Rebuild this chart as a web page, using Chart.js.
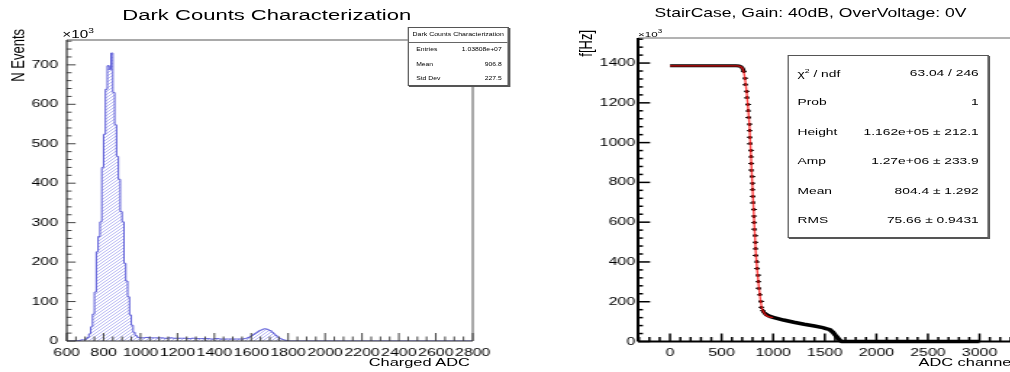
<!DOCTYPE html>
<html>
<head>
<meta charset="utf-8">
<script src="https://cdn.jsdelivr.net/npm/chart.js@4.4.0/dist/chart.umd.min.js"></script>
<style>
html, body { margin: 0; padding: 0; width: 1010px; height: 372px; overflow: hidden; background: #fff; }
#root { position: absolute; left: 0; top: 0; width: 720px; height: 372px; transform: scaleX(1.45); transform-origin: 0 0;
        font-family: 'Liberation Sans', Arial, Helvetica, sans-serif; color: #000; }
canvas { position: absolute; top: 0; }
.t { position: absolute; white-space: nowrap; }
.stats { position: absolute; background: #fff; border: 1px solid #555; box-shadow: 1px 1px 0 #555; box-sizing: border-box; }
.stats span { position: absolute; white-space: nowrap; line-height: 1; transform: translateY(-50%); }
</style>
</head>
<body>
<div id="root">
  <canvas id="histChart" width="350" height="372" style="left:0"></canvas>
  <canvas id="stairChart" width="310" height="372" style="left:400px"></canvas>

  <div class="t" style="left:184px; top:14px; font-size:15.2px; transform:translate(-50%,-50%)">Dark Counts Characterization</div>
  <div class="t" style="left:559px; top:13px; font-size:12.1px; transform:translate(-50%,-50%)">StairCase, Gain: 40dB, OverVoltage: 0V</div>

  <div class="t" style="left:43px; top:27px; font-size:10.5px">&times;10<sup style="font-size:7px">3</sup></div>
  <div class="t" style="left:440px; top:28px; font-size:8px">&times;10<sup style="font-size:5.5px">3</sup></div>

  <div class="t" style="left:6px; top:129px; width:100px; line-height:14px; font-size:13px; text-align:right; transform-origin:0 0; transform:rotate(-90deg)">N Events</div>
  <div class="t" style="left:397px; top:130px; width:100px; line-height:14px; font-size:13px; text-align:right; transform-origin:0 0; transform:rotate(-90deg)">f[Hz]</div>

  <div class="t" style="left:224px; top:355px; width:100px; line-height:14px; font-size:11.3px; text-align:right">Charged ADC</div>
  <div class="t" style="left:600px; top:355px; width:100px; line-height:14px; font-size:11.3px; text-align:right">ADC channel</div>

  <div class="stats" style="left:281px; top:27px; width:70px; height:59px">
    <span style="left:0; width:100%; text-align:center; top:6.5px; font-size:4.8px">Dark Counts Characterization</span>
    <div style="position:absolute; left:0; right:0; top:14px; border-top:1px solid #666"></div>
    <span style="left:5px; top:22px; font-size:4.7px">Entries</span><span style="right:4px; top:22px; font-size:4.7px">1.03808e+07</span>
    <span style="left:5px; top:37px; font-size:4.7px">Mean</span><span style="right:4px; top:37px; font-size:4.7px">906.8</span>
    <span style="left:5px; top:51px; font-size:4.7px">Std Dev</span><span style="right:4px; top:51px; font-size:4.7px">227.5</span>
  </div>

  <div class="stats" style="left:543px; top:55px; width:139px; height:183px">
    <span style="left:6px; top:16.5px; font-size:9.5px">&chi;<sup style="font-size:6px">2</sup> / ndf</span><span style="right:6px; top:16.5px; font-size:9.5px">63.04 / 246</span>
    <span style="left:6px; top:46px; font-size:9.5px">Prob</span><span style="right:6px; top:46px; font-size:9.5px">1</span>
    <span style="left:6px; top:75.5px; font-size:9.5px">Height</span><span style="right:6px; top:75.5px; font-size:9.5px">1.162e+05 &plusmn; 212.1</span>
    <span style="left:6px; top:105px; font-size:9.5px">Amp</span><span style="right:6px; top:105px; font-size:9.5px">1.27e+06 &plusmn; 233.9</span>
    <span style="left:6px; top:135px; font-size:9.5px">Mean</span><span style="right:6px; top:135px; font-size:9.5px">804.4 &plusmn; 1.292</span>
    <span style="left:6px; top:164px; font-size:9.5px">RMS</span><span style="right:6px; top:164px; font-size:9.5px">75.66 &plusmn; 0.9431</span>
  </div>
</div>

<script>
// --- left: charge histogram (bin low edges in ADC, counts in units of 10^3) ---
const binLow = [600,
  650, 660, 670, 680, 690, 700, 710, 720, 730, 740, 750, 760, 770, 780, 790, 800, 810, 820, 830, 840,
  850, 860, 870, 880, 890, 900, 910, 920, 930, 940, 950, 960, 970, 980, 990,
  1000, 1025, 1050, 1075, 1100, 1125, 1150, 1175, 1200, 1225, 1250, 1275, 1300, 1325, 1350, 1375,
  1400, 1425, 1450, 1475, 1500, 1525,
  1550, 1560, 1570, 1580, 1590, 1600, 1610, 1620, 1630, 1640, 1650, 1660, 1670, 1680, 1690, 1700,
  1710, 1720, 1730, 1740, 1750, 1760, 1770, 1780, 1790,
  1800];
const binCount = [0,
  1, 1, 2, 3, 3, 5, 9, 18, 36, 68, 124, 226, 265, 302, 440, 524, 638, 698, 688, 730,
  630, 548, 468, 410, 328, 302, 197, 152, 112, 66, 40, 22, 14, 10, 8,
  8, 9, 8, 8, 8, 7, 8, 7, 7, 7, 6, 7, 6, 6, 6, 5,
  6, 5, 5, 5, 5, 5,
  5, 6, 7, 9, 11, 14, 17, 20, 23, 26, 28, 30, 31, 30, 28, 26,
  22, 18, 14, 10, 7, 5, 3, 2, 1,
  0];
const histEnd = 2800;
const histXTicks = [600, 800, 1000, 1200, 1400, 1600, 1800, 2000, 2200, 2400, 2600, 2800];
const histYTicks = [0, 100, 200, 300, 400, 500, 600, 700];

// --- right: staircase scan (ADC channel, rate in units of 10^3 Hz) ---
const plateauAdc = [0, 640, 670, 690, 705, 716];
const plateauRate = [1386, 1386, 1385, 1381, 1372, 1357];

const stepAdc = [716, 726, 733, 742, 748, 753, 759, 765, 769, 772, 775, 779, 782, 785, 788, 791, 794, 798,
  800, 804, 807, 810, 813, 816, 820, 823, 826, 830, 833, 839, 845, 851, 856, 862, 870, 878, 886, 898, 912, 925, 936];
const stepRate = [1357, 1324, 1291, 1258, 1225, 1192, 1159, 1126, 1093, 1060, 1027, 994, 961, 928, 895, 862, 829, 796,
  763, 730, 697, 664, 631, 598, 565, 532, 499, 466, 433, 400, 367, 334, 301, 268, 235, 202, 172, 155, 145, 138, 134];

const tailAdc = [936, 970, 1000, 1100, 1200, 1300, 1400, 1480, 1520, 1550, 1580, 1600, 1620, 1640, 1652, 1665, 3000];
const tailRate = [134, 126, 121, 108, 97, 87, 78, 70, 64, 59, 46, 33, 22, 9, 4, 0, 0];

const fitAdc = [0, 650, 690, 710, 730, 750, 770, 790, 810, 830, 850, 870, 890, 910, 930, 960, 1000];
const fitRate = [1386, 1386, 1380, 1364, 1310, 1215, 1085, 875, 665, 458, 332, 236, 168, 146, 132, 124, 120];

const stairXTicks = [0, 500, 1000, 1500, 2000, 2500, 3000];
const stairYTicks = [0, 200, 400, 600, 800, 1000, 1200, 1400];

const FONT = "'Liberation Sans', Arial, Helvetica, sans-serif";
Chart.defaults.font.family = FONT;
Chart.defaults.color = '#000';

function pts(xs, ys) {
    return xs.map((x, i) => ({ x: x, y: ys[i] }));
}

// 軸の大きさを固定（チャート領域の位置を合わせる）
function fixBox(size) {
    return function (scale) {
        if (scale.isHorizontal()) scale.height = size; else scale.width = size;
        scale.paddingLeft = scale.paddingRight = scale.paddingTop = scale.paddingBottom = 0;
    };
}

// ROOT風の内向き目盛りと枠
const rootAxes = {
    id: 'rootAxes',
    afterDatasetsDraw(chart, args, o) {
        const { ctx, chartArea: a, scales: { x, y } } = chart;
        ctx.save();
        const seg = (x1, y1, x2, y2) => { ctx.beginPath(); ctx.moveTo(x1, y1); ctx.lineTo(x2, y2); ctx.stroke(); };

        ctx.strokeStyle = o.frameColor;
        ctx.lineWidth = 1;
        seg(a.left, a.top, a.right, a.top);
        seg(a.right, a.top, a.right, a.bottom);

        ctx.strokeStyle = o.tickColor;
        ctx.lineWidth = o.tickWidth;
        for (let k = Math.ceil(x.min / o.xMinor); k * o.xMinor <= x.max; k++) {
            const v = k * o.xMinor;
            const px = x.getPixelForValue(v);
            const len = (v % o.xMajor === 0) ? o.xMajorLen : o.xMinorLen;
            seg(px, a.bottom, px, a.bottom - len);
        }
        for (let k = Math.ceil(y.min / o.yMinor); k * o.yMinor <= y.max; k++) {
            const v = k * o.yMinor;
            const py = y.getPixelForValue(v);
            const len = (v % o.yMajor === 0) ? o.yMajorLen : o.yMinorLen;
            seg(a.left, py, a.left + len, py);
        }

        ctx.strokeStyle = o.axisColor;
        ctx.lineWidth = o.axisWidth;
        seg(a.left, a.top, a.left, a.bottom);
        seg(a.left, a.bottom, a.right, a.bottom);
        ctx.restore();
    }
};

function makeHatch(target) {
    const c = document.createElement('canvas');
    c.width = 3; c.height = 3;
    const g = c.getContext('2d');
    g.strokeStyle = 'rgba(110,110,230,0.6)';
    g.lineWidth = 0.8;
    g.beginPath();
    g.moveTo(0, 3); g.lineTo(3, 0);
    g.moveTo(-1, 1); g.lineTo(1, -1);
    g.moveTo(2, 4); g.lineTo(4, 2);
    g.stroke();
    return target.getContext('2d').createPattern(c, 'repeat');
}

function makeMarker() {
    const c = document.createElement('canvas');
    c.width = 4; c.height = 3;
    const g = c.getContext('2d');
    g.fillStyle = '#000';
    g.fillRect(0, 1, 4, 1);
    g.fillRect(1, 0, 2, 3);
    return c;
}

const plainLabel = v => String(v);

function axisOpts(min, max, tickList, size, fontSize, pad) {
    return {
        type: 'linear', min: min, max: max,
        afterFit: fixBox(size),
        afterBuildTicks: scale => { scale.ticks = tickList.map(v => ({ value: v })); },
        grid: { display: false, drawTicks: false },
        border: { display: false },
        ticks: { autoSkip: false, maxRotation: 0, minRotation: 0,
                 padding: pad, callback: plainLabel, font: { size: fontSize } }
    };
}

// 左: 電荷ヒストグラム
const histCanvas = document.getElementById('histChart');
const histData = pts(binLow, binCount).concat([{ x: histEnd, y: 0 }]);

new Chart(histCanvas, {
    type: 'line',
    data: {
        datasets: [{
            data: histData,
            stepped: 'before',
            borderColor: '#5a5ad6',
            borderWidth: 1,
            backgroundColor: makeHatch(histCanvas),
            fill: 'origin',
            pointRadius: 0
        }]
    },
    options: {
        responsive: false,
        animation: false,
        events: [],
        layout: { padding: { top: 40, right: 24, left: 0, bottom: 0 } },
        plugins: {
            legend: { display: false },
            tooltip: { enabled: false },
            rootAxes: {
                frameColor: '#555', axisColor: '#333', axisWidth: 1.2, tickColor: '#444', tickWidth: 1,
                xMinor: 50, xMajor: 200, xMajorLen: 8, xMinorLen: 4.5,
                yMinor: 20, yMajor: 100, yMajorLen: 6.2, yMinorLen: 3.4
            }
        },
        scales: {
            x: axisOpts(600, 2800, histXTicks, 31, 11, 5),
            y: axisOpts(0, 763, histYTicks, 46, 11, 6)
        }
    },
    plugins: [rootAxes]
});

// 右: 階段スキャン + フィット
new Chart(document.getElementById('stairChart'), {
    type: 'scatter',
    data: {
        datasets: [
            {
                data: pts(fitAdc, fitRate),
                showLine: true,
                borderColor: 'rgba(255,20,20,0.8)',
                borderWidth: 1.4,
                cubicInterpolationMode: 'monotone',
                pointRadius: 0
            },
            {
                data: pts(stepAdc, stepRate),
                showLine: false,
                pointStyle: makeMarker(),
                pointRadius: 2
            },
            {
                data: pts(plateauAdc, plateauRate),
                showLine: true,
                borderColor: '#000',
                borderWidth: 3,
                pointRadius: 0
            },
            {
                data: pts(tailAdc, tailRate),
                showLine: true,
                borderColor: '#000',
                borderWidth: 3.5,
                pointRadius: 0,
                clip: false
            }
        ]
    },
    options: {
        responsive: false,
        animation: false,
        events: [],
        layout: { padding: { top: 38, right: 6, left: 0, bottom: 0 } },
        plugins: {
            legend: { display: false },
            tooltip: { enabled: false },
            rootAxes: {
                frameColor: '#666', axisColor: '#000', axisWidth: 2, tickColor: '#000', tickWidth: 1.5,
                xMinor: 100, xMajor: 500, xMajorLen: 8, xMinorLen: 4.5,
                yMinor: 40, yMajor: 200, yMajorLen: 8.3, yMinorLen: 3.4
            }
        },
        scales: {
            x: axisOpts(-310, 3400, stairXTicks, 30.5, 11, 5),
            y: axisOpts(0, 1526, stairYTicks, 40, 11, 2)
        }
    },
    plugins: [rootAxes]
});
</script>
</body>
</html>
